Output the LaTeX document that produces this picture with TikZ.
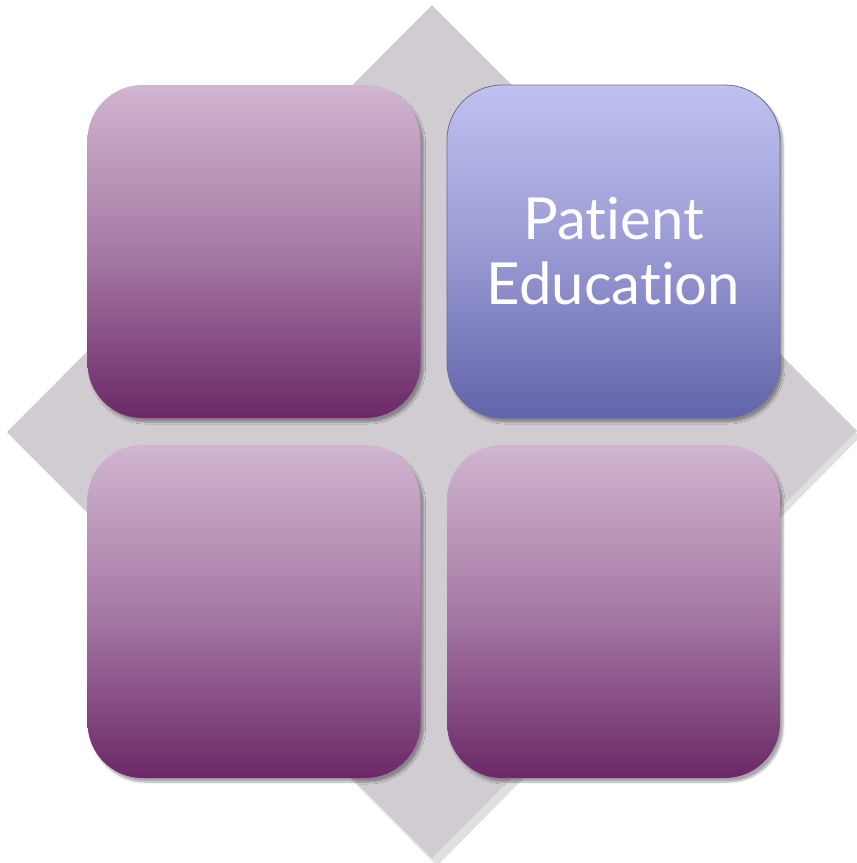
\documentclass[tikz,border=0pt]{standalone}
\usepackage{fontspec}
\setmainfont[Ligatures=NoCommon]{Lato}
\usetikzlibrary{shadows.blur}
\definecolor{diamondgray}{HTML}{D1CBD2}
\definecolor{purptop}{HTML}{D1B5D1}
\definecolor{purpbot}{HTML}{6B2867}
\definecolor{bluetop}{HTML}{C0C1F0}
\definecolor{bluebot}{HTML}{6264AA}
\tikzset{
  tile/.style={rectangle, rounded corners=55pt, minimum width=333pt, minimum height=333pt,
    inner sep=0pt, blur shadow={shadow xshift=3pt, shadow yshift=-4pt, shadow blur steps=6, shadow opacity=35}},
  purptile/.style={tile, top color=purptop, bottom color=purpbot, middle color=purptop!58!purpbot},
  bluetile/.style={tile, top color=bluetop, bottom color=bluebot, middle color=bluetop!58!bluebot, draw=bluebot!75!gray, line width=0.8pt},
  label/.style={text=white, align=center, font=\fontsize{58}{65}\selectfont}
}
\begin{document}
\begin{tikzpicture}[x=1pt,y=-1pt]
\useasboundingbox (0,0) rectangle (857,863);
\fill[black, opacity=0.12] (437,12) -- (860,437) -- (437,866) -- (12,437) -- cycle;
\fill[diamondgray] (432,5) -- (857,431) -- (432,858) -- (7,432) -- cycle;
\node[purptile] (tl) at (254,251.5) {};
\node[bluetile, label] (tr) at (613.5,251.5) {Patient\\Education};
\node[purptile] (bl) at (254,611.5) {};
\node[purptile] (br) at (613.5,611.5) {};
\end{tikzpicture}
\end{document}
